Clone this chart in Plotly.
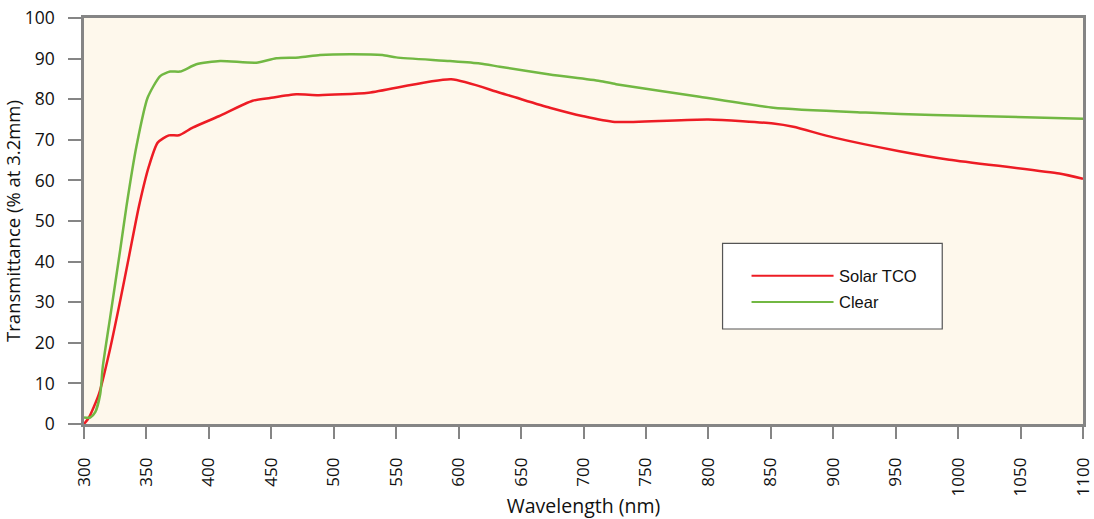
import plotly.graph_objects as go

# ---- data ----
red_name = "Solar TCO"
red_x = [300, 304, 312, 320, 328, 336, 344, 352, 359, 368, 376, 387, 408, 435, 449,
         470, 488, 528, 594, 633, 673, 700, 725, 800, 852, 868, 900, 953, 993, 1081, 1100]
red_y = [0, 1.6, 7.4, 17.3, 28.9, 41.2, 53.6, 63.5, 69.3, 71.1, 71.1, 73.0, 75.8, 79.6, 80.3,
         81.2, 81.0, 81.6, 84.9, 81.6, 77.9, 75.8, 74.4, 75.0, 74.0, 73.2, 70.6, 67.2, 65.1, 61.7, 60.4]

green_name = "Clear"
green_x = [300, 305, 309, 313, 315, 321, 329, 334, 342, 351, 361, 369, 377, 390, 409,
           438, 454, 472, 489, 513, 539, 550, 593, 617, 633, 673, 713, 726, 793, 852, 926, 980, 1100]
green_y = [1.6, 1.6, 2.9, 7.4, 14.0, 26.4, 42.9, 53.6, 68.4, 80.4, 85.7, 86.8, 86.8, 88.6, 89.4,
           89.0, 90.1, 90.3, 90.9, 91.1, 90.9, 90.3, 89.4, 88.8, 88.0, 86.1, 84.5, 83.7, 80.6, 77.9, 76.7, 76.1, 75.2]

x_ticks = list(range(300, 1101, 50))
y_ticks = list(range(0, 101, 10))

RED = "#ED1C24"
GREEN = "#72B843"
AXIS = "#858585"
FONT = "Open Sans, Noto Sans, sans-serif"

fig = go.Figure()
fig.add_trace(go.Scatter(x=red_x, y=red_y, mode="lines", name=red_name,
                         line=dict(color=RED, width=2.5, shape="spline", smoothing=0.6),
                         showlegend=False))
fig.add_trace(go.Scatter(x=green_x, y=green_y, mode="lines", name=green_name,
                         line=dict(color=GREEN, width=2.5, shape="spline", smoothing=0.6),
                         showlegend=False))

# manual legend box (long sample lines as in the reference)
lx0, lx1, ly0, ly1 = 0.6392, 0.8591, 0.445, 0.234
fig.add_shape(type="rect", xref="paper", yref="paper", x0=lx0, x1=lx1, y0=ly0, y1=ly1,
              fillcolor="white", line=dict(color="#555555", width=1.2), layer="above")
for name, color, yy in [(red_name, RED, 0.3653), (green_name, GREEN, 0.3005)]:
    fig.add_shape(type="line", xref="paper", yref="paper", x0=0.6682, x1=0.7503, y0=yy, y1=yy,
                  line=dict(color=color, width=2), layer="above")
    fig.add_annotation(xref="paper", yref="paper", x=0.7533, y=yy, text=name, showarrow=False,
                       xanchor="left", yanchor="middle",
                       font=dict(family="Liberation Sans, Arial, sans-serif", size=16.5, color="#111111"))

fig.update_layout(
    width=1094, height=519,
    margin=dict(l=84, r=11, t=18, b=95, autoexpand=False),
    paper_bgcolor="white",
    plot_bgcolor="#FEF8EC",
    font=dict(family=FONT, size=17, color="#111111"),
)
fig.update_xaxes(
    range=[300, 1100], tickvals=x_ticks, tickangle=-90,
    showgrid=False, zeroline=False,
    showline=True, linecolor=AXIS, linewidth=2.5, mirror=True,
    ticks="outside", ticklen=12, tickwidth=2, tickcolor=AXIS,
    ticklabelstandoff=12, tickfont=dict(size=17),
    title=dict(text="Wavelength (nm)", font=dict(size=19.5), standoff=6),
    automargin=False,
)
fig.update_yaxes(
    range=[0, 100], tickvals=y_ticks,
    showgrid=False, zeroline=False,
    showline=True, linecolor=AXIS, linewidth=2.5, mirror=True,
    ticks="outside", ticklen=13, tickwidth=2, tickcolor=AXIS,
    ticklabelstandoff=10, tickfont=dict(size=17.5),
    title=dict(text="Transmittance (% at 3.2mm)", font=dict(size=18.5), standoff=1),
    automargin=False,
)

fig.write_html("out.html", config={"displayModeBar": False},
               post_script="document.body.style.margin='0';document.body.style.padding='0';")
